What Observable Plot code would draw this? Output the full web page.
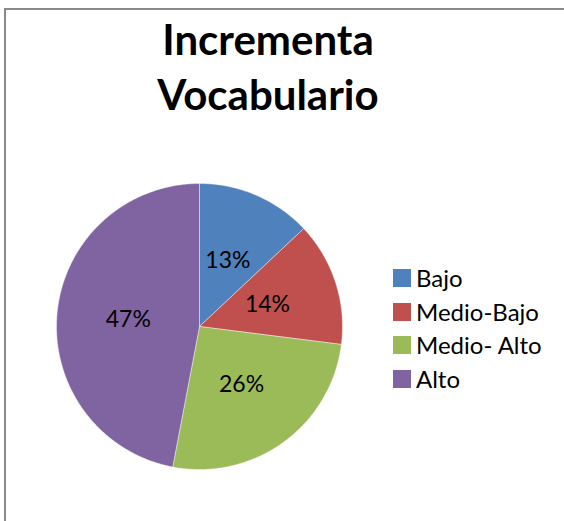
<!DOCTYPE html>
<html>
<head>
<meta charset="utf-8">
<script src="https://cdn.jsdelivr.net/npm/d3@7"></script>
<script src="https://cdn.jsdelivr.net/npm/@observablehq/plot@0.6"></script>
<style>
  html, body { margin: 0; padding: 0; background: #fff; }
  #wrap { position: relative; width: 564px; height: 521px; overflow: hidden; font-family: Lato, "Open Sans", sans-serif; }
  #frame { position: absolute; left: 4px; top: 8px; width: 600px; height: 600px; border-top: 2px solid #8a8a8a; border-left: 2px solid #8a8a8a; box-sizing: border-box; }
  #title { position: absolute; left: 0; top: 12px; width: 536px; text-align: center; font-weight: bold; font-size: 42px; line-height: 55px; color: #000; }
  #chart { position: absolute; left: 0; top: 0; }
  #legend { position: absolute; left: 393px; top: 262px; }
  .lg-swatch { line-height: 32.5px !important; height: 32.5px; margin: 0 !important; display: flex !important; align-items: center; }
  .lg-swatch svg { margin-right: 5px !important; }
</style>
</head>
<body>
<div id="wrap">
  <div id="frame"></div>
  <div id="title">Incrementa<br>Vocabulario</div>
  <div id="chart"></div>
  <div id="legend"></div>
</div>
<script>
const categories = ["Bajo", "Medio-Bajo", "Medio- Alto", "Alto"];
const values = [13, 14, 26, 47];
const labels = ["13%", "14%", "26%", "47%"];
const colors = ["#4F81BD", "#C0504D", "#9BBB59", "#8064A2"];

const data = categories.map((c, i) => ({cat: c, value: values[i], label: labels[i]}));
const arcs = d3.pie().sort(null).value(d => d.value)(data);

// Build slice outlines (unit circle, y up) from pie angles
const pts = [];
for (const a of arcs) {
  const n = Math.max(2, Math.ceil((a.endAngle - a.startAngle) / 0.01));
  pts.push({cat: a.data.cat, x: 0, y: 0});
  for (let k = 0; k <= n; k++) {
    const t = a.startAngle + (a.endAngle - a.startAngle) * k / n;
    pts.push({cat: a.data.cat, x: Math.sin(t), y: Math.cos(t)});
  }
  pts.push({cat: a.data.cat, x: 0, y: 0});
}
const labelPts = arcs.map(a => {
  const m = (a.startAngle + a.endAngle) / 2;
  return {label: a.data.label, x: 0.5 * Math.sin(m), y: 0.5 * Math.cos(m)};
});

const colorScale = {domain: categories, range: colors};

const chart = Plot.plot({
  width: 564,
  height: 521,
  marginLeft: 56,
  marginRight: 222,
  marginTop: 183,
  marginBottom: 52,
  x: {domain: [-1, 1], axis: null},
  y: {domain: [-1, 1], axis: null},
  color: colorScale,
  style: {background: "transparent", fontFamily: "Lato, 'Open Sans', sans-serif"},
  marks: [
    Plot.line(pts, {x: "x", y: "y", z: "cat", fill: "cat", stroke: "#ffffff", strokeWidth: 0.6, strokeOpacity: 0.7, curve: "linear"}),
    Plot.text(labelPts, {x: "x", y: "y", text: "label", fontSize: 23, fill: "#000"})
  ]
});
document.getElementById("chart").appendChild(chart);

const legend = Plot.legend({
  color: colorScale,
  legend: "swatches",
  columns: 1,
  swatchSize: 18,
  className: "lg",
  style: {fontSize: "24px", fontFamily: "Lato, 'Open Sans', sans-serif", color: "#000", margin: 0}
});
document.getElementById("legend").appendChild(legend);
</script>
</body>
</html>
